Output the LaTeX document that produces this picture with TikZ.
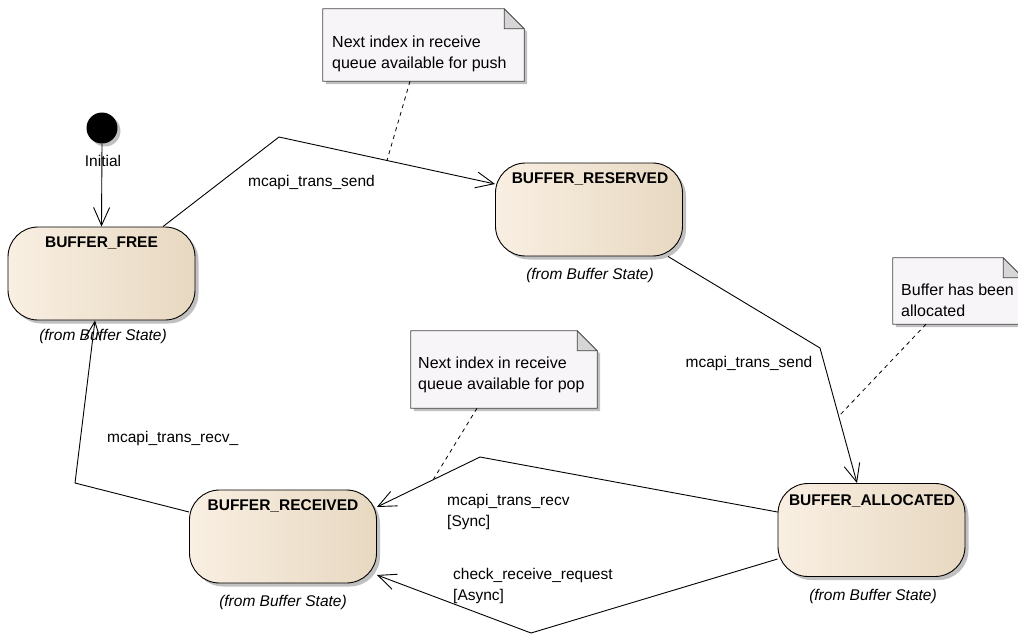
\documentclass[tikz,border=0pt]{standalone}
\usepackage{fontspec}
\setmainfont{Liberation Sans}
\usetikzlibrary{arrows.meta,shadows,calc}
\definecolor{stL}{RGB}{249,239,226}
\definecolor{stM}{RGB}{250,241,229}
\definecolor{stR}{RGB}{231,216,193}
\definecolor{notefillc}{RGB}{248,245,248}
\definecolor{notedrawc}{RGB}{70,70,70}
\definecolor{foldc}{RGB}{214,214,214}
\definecolor{shadowc}{RGB}{192,192,192}
\newcommand{\mynote}[1]{%
  \fill[shadowc] ($(#1.north west)+(3,3)$) -- ($(#1.north east)+(-17,3)$) -- ($(#1.north east)+(3,23)$) -- ($(#1.south east)+(3,3)$) -- ($(#1.south west)+(3,3)$) -- cycle;
  \filldraw[fill=notefillc, draw=notedrawc, line width=0.8pt] (#1.north west) -- ($(#1.north east)+(-20,0)$) -- ($(#1.north east)+(0,20)$) -- (#1.south east) -- (#1.south west) -- cycle;
  \filldraw[fill=foldc, draw=notedrawc, line width=0.8pt, line join=round] ($(#1.north east)+(-20,0)$) -- ($(#1.north east)+(-20,20)$) -- ($(#1.north east)+(0,20)$) -- cycle;
}
\begin{document}
\begin{tikzpicture}[x=1pt,y=-1pt,
  every node/.style={font=\fontsize{15.5}{21}\selectfont},
  state/.style={draw=black, line width=0.9pt, rounded corners=30pt,
    minimum width=187pt, minimum height=93pt, inner sep=0pt,
    left color=stL, middle color=stM, right color=stR,
    drop shadow={shadow xshift=3.5pt, shadow yshift=-3.5pt, fill=shadowc, opacity=1}},
  title/.style={font=\fontsize{15.5}{21}\selectfont\bfseries, anchor=base, inner sep=0pt},
  from/.style={font=\fontsize{15.5}{21}\selectfont\itshape, anchor=base, inner sep=0pt},
  lbl/.style={anchor=base west, inner sep=0pt, align=left},
  notebox/.style={inner sep=0pt, minimum height=72pt},
  notetext/.style={anchor=base west, inner sep=0pt, align=left, font=\fontsize{16}{21}\selectfont},
  trans/.style={draw=black, line width=0.9pt, -{Straight Barb[length=18pt,width=16pt]}},
  anchorline/.style={draw=black, line width=0.8pt, dash pattern=on 4pt off 4pt}
]
\useasboundingbox (0,0) rectangle (1018,633);
\clip (0,0) rectangle (1018,633);

% initial pseudo state
\node[circle, fill=black, minimum size=31pt, inner sep=0pt,
  drop shadow={shadow xshift=3pt, shadow yshift=-3pt, fill=shadowc, opacity=1}] (init) at (102,128) {};
\node[anchor=base, inner sep=0pt] (initlbl) at (103,166) {Initial};

% states
\node[state] (free) at (101.5,273.5) {};
\node[title] (freet) at (101.5,247.5) {BUFFER\_FREE};
\node[from] (freef) at (103,340) {(from Buffer State)};

\node[state] (reserved) at (589,209.5) {};
\node[title] (reservedt) at (590,183.5) {BUFFER\_RESERVED};
\node[from] (reservedf) at (590,279) {(from Buffer State)};

\node[state] (alloc) at (871.5,530) {};
\node[title] (alloct) at (872,505) {BUFFER\_ALLOCATED};
\node[from] (allocf) at (873,600) {(from Buffer State)};

\node[state] (received) at (283,536.5) {};
\node[title] (receivedt) at (283,510.5) {BUFFER\_RECEIVED};
\node[from] (receivedf) at (283,606) {(from Buffer State)};

% notes
\node[notebox, minimum width=201pt] (n1) at (423.5,45) {};
\mynote{n1}
\node[notetext] (n1t) at (332,68) {Next index in receive\\queue available for push};

\node[notebox, minimum width=186pt, minimum height=77pt] (n2) at (504,369.5) {};
\mynote{n2}
\node[notetext] (n2t) at (418,389) {Next index in receive\\queue available for pop};

\node[notebox, minimum width=130pt, minimum height=66pt] (n3) at (958,291) {};
\mynote{n3}
\node[notetext] (n3t) at (901,316) {Buffer has been\\allocated};

% transitions
\draw[trans] (init.south) -- (free.north);

\draw[trans] ([xshift=61.5pt]free.north) -- (279,137) coordinate (b1) -- ([yshift=25.5pt]reserved.west);
\node[anchor=base, inner sep=0pt] (l1) at (311.5,186) {mcapi\_trans\_send};

\draw[trans] ([xshift=79pt]reserved.south) -- (820,348) coordinate (b2) -- ([xshift=-14.5pt]alloc.north);
\node[anchor=base, inner sep=0pt] (l2) at (749,367) {mcapi\_trans\_send};

\draw[trans] ([yshift=18pt]alloc.west) -- (480,457) coordinate (b3) -- ([yshift=29.5pt]received.east);
\node[lbl] (l3) at (447,526) {mcapi\_trans\_recv\\{[Sync]}};

\draw[trans] ([yshift=-29pt]alloc.west) -- (531,633) coordinate (b4) -- ([yshift=-38.5pt]received.east);
\node[lbl] (l4) at (453,600) {check\_receive\_request\\{[Async]}};

\draw[trans] ([yshift=24.5pt]received.west) -- (75,483) coordinate (b5) -- ([xshift=-6.5pt]free.south);
\node[lbl] (l5) at (107,442) {mcapi\_trans\_recv\_};

% note anchors
\coordinate (a1) at (387,160.5);
\coordinate (a2) at (433,480);
\coordinate (a3) at (839,416);
\draw[anchorline] (n1.south -| 410,0) -- (a1);
\draw[anchorline] (n2.south -| 477,0) -- (a2);
\draw[anchorline] (n3.south -| 926,0) -- (a3);
\end{tikzpicture}
\end{document}
